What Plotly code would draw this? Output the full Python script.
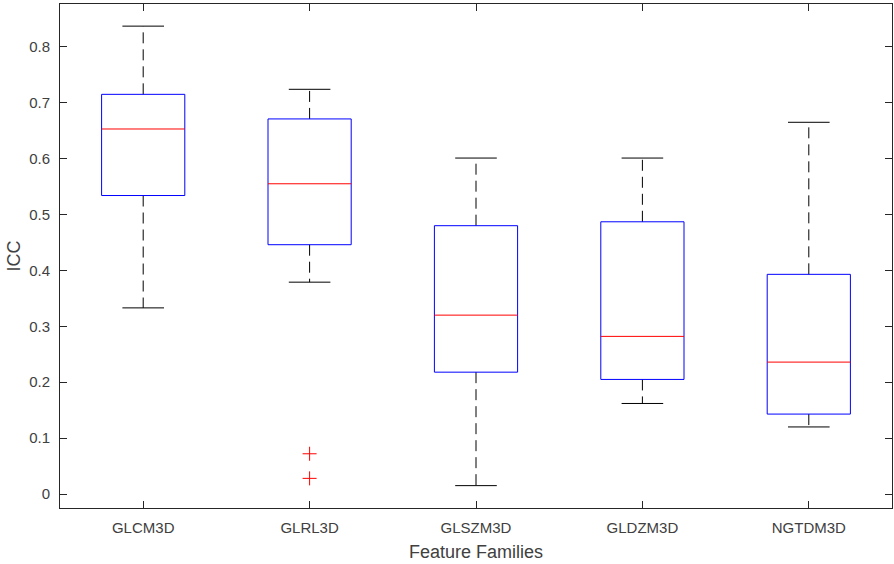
import plotly.graph_objects as go

categories = ["GLCM3D", "GLRL3D", "GLSZM3D", "GLDZM3D", "NGTDM3D"]
lower_whisker = [0.333, 0.379, 0.015, 0.162, 0.120]
q1 = [0.534, 0.446, 0.218, 0.205, 0.143]
median = [0.653, 0.555, 0.320, 0.282, 0.236]
q3 = [0.715, 0.671, 0.480, 0.487, 0.393]
upper_whisker = [0.837, 0.724, 0.601, 0.601, 0.665]
outlier_cat = ["GLRL3D", "GLRL3D"]
outlier_val = [0.072, 0.028]

y_ticks = [0, 0.1, 0.2, 0.3, 0.4, 0.5, 0.6, 0.7, 0.8]
y_ticktext = ["0", "0.1", "0.2", "0.3", "0.4", "0.5", "0.6", "0.7", "0.8"]

BOX_HALF = 0.25
CAP_HALF = 0.125
pos = {c: i + 1 for i, c in enumerate(categories)}

fig = go.Figure()
for i, c in enumerate(categories):
    x0 = pos[c]
    # whiskers (dashed)
    for a, b in ((q3[i], upper_whisker[i]), (q1[i], lower_whisker[i])):
        fig.add_trace(go.Scatter(x=[x0, x0], y=[a, b], mode="lines",
                                 line=dict(color="#000000", width=1, dash="11px,6px"),
                                 hoverinfo="skip", showlegend=False))
    # caps
    for v in (upper_whisker[i], lower_whisker[i]):
        fig.add_trace(go.Scatter(x=[x0 - CAP_HALF, x0 + CAP_HALF], y=[v, v], mode="lines",
                                 line=dict(color="#000000", width=1),
                                 hoverinfo="skip", showlegend=False))
    # box
    fig.add_trace(go.Scatter(x=[x0 - BOX_HALF, x0 + BOX_HALF, x0 + BOX_HALF, x0 - BOX_HALF, x0 - BOX_HALF],
                             y=[q1[i], q1[i], q3[i], q3[i], q1[i]], mode="lines",
                             line=dict(color="#0000ff", width=1),
                             hoverinfo="skip", showlegend=False))
    # median
    fig.add_trace(go.Scatter(x=[x0 - BOX_HALF, x0 + BOX_HALF], y=[median[i], median[i]], mode="lines",
                             line=dict(color="#ff0000", width=1),
                             hoverinfo="skip", showlegend=False))

fig.add_trace(go.Scatter(x=[pos[c] for c in outlier_cat], y=outlier_val, mode="markers",
                         marker=dict(symbol="cross-thin", size=10, line=dict(color="#ff0000", width=1)),
                         showlegend=False))

font_color = "#404040"
fig.update_layout(
    width=894, height=564,
    margin=dict(l=60, r=2, t=4, b=56, autoexpand=False),
    plot_bgcolor="white", paper_bgcolor="white",
    font=dict(family="Liberation Sans, Arial, sans-serif", size=15, color=font_color),
    xaxis=dict(range=[0.5, 5.5], tickvals=list(range(1, len(categories) + 1)), ticktext=categories,
               ticks="inside", ticklen=7, tickcolor="#262626", showline=True, linecolor="#262626",
               linewidth=1, mirror="ticks", showgrid=False, zeroline=False,
               tickfont=dict(size=15), ticklabelstandoff=6,
               title=dict(text="Feature Families", font=dict(size=18), standoff=10)),
    yaxis=dict(range=[-0.025, 0.8766], tickvals=y_ticks, ticktext=y_ticktext,
               ticks="inside", ticklen=7, tickcolor="#262626", showline=True, linecolor="#262626",
               linewidth=1, mirror="ticks", showgrid=False, zeroline=False,
               tickfont=dict(size=15), ticklabelstandoff=6,
               title=dict(text="ICC", font=dict(size=18), standoff=3)),
)

fig.write_html("out.html", config={"displayModeBar": False},
               post_script="document.body.style.margin='0';")
